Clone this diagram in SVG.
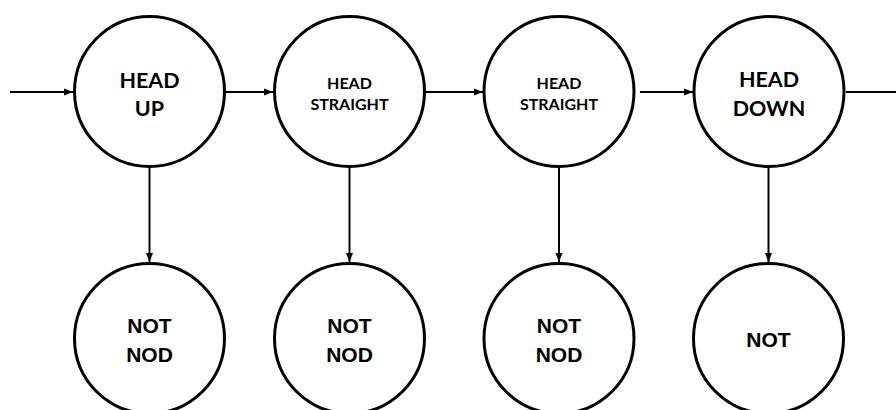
<svg xmlns="http://www.w3.org/2000/svg" width="896" height="410" viewBox="0 0 896 410">
  <defs>
    <marker id="arrow" markerUnits="userSpaceOnUse" markerWidth="10" markerHeight="8" refX="9" refY="4" orient="auto">
      <path d="M0,0.5 L9,4 L0,7.5 z" fill="#000"/>
    </marker>
    <style>
      .state { fill: #fff; stroke: #000; stroke-width: 3; }
      .edge { stroke: #000; stroke-width: 2; fill: none; }
      .lbl { font-family: Lato, "Open Sans", sans-serif; font-weight: bold; fill: #000; text-anchor: middle; }
      .big { font-size: 21.5px; }
      .small { font-size: 16px; }
      .out { font-family: "Liberation Sans", Arial, sans-serif; font-weight: bold; font-size: 21px; fill: #000; text-anchor: middle; }
    </style>
  </defs>
  <rect width="896" height="410" fill="#fff"/>

  <!-- connectors -->
  <g id="edges">
    <line class="edge" x1="10" y1="92" x2="73" y2="92" marker-end="url(#arrow)"/>
    <line class="edge" x1="226" y1="92" x2="273" y2="92" marker-end="url(#arrow)"/>
    <line class="edge" x1="426" y1="92" x2="483" y2="92" marker-end="url(#arrow)"/>
    <line class="edge" x1="640" y1="92" x2="693" y2="92" marker-end="url(#arrow)"/>
    <line class="edge" x1="846" y1="92" x2="896" y2="92"/>
    <line class="edge" x1="149.5" y1="168" x2="149.5" y2="262" marker-end="url(#arrow)"/>
    <line class="edge" x1="349.5" y1="168" x2="349.5" y2="262" marker-end="url(#arrow)"/>
    <line class="edge" x1="559" y1="168" x2="559" y2="262" marker-end="url(#arrow)"/>
    <line class="edge" x1="768.5" y1="168" x2="768.5" y2="262" marker-end="url(#arrow)"/>
  </g>

  <!-- head states -->
  <g id="head-up">
    <circle class="state" cx="149.5" cy="91.5" r="75"/>
    <text class="lbl big" x="149.5" y="87.5">HEAD</text>
    <text class="lbl big" x="149.5" y="116">UP</text>
  </g>
  <g id="head-straight-1">
    <circle class="state" cx="349.5" cy="91.5" r="75"/>
    <text class="lbl small" x="349.5" y="88.5">HEAD</text>
    <text class="lbl small" x="349.5" y="110">STRAIGHT</text>
  </g>
  <g id="head-straight-2">
    <circle class="state" cx="559" cy="91.5" r="75"/>
    <text class="lbl small" x="559" y="88.5">HEAD</text>
    <text class="lbl small" x="559" y="110">STRAIGHT</text>
  </g>
  <g id="head-down">
    <circle class="state" cx="769" cy="91.5" r="75"/>
    <text class="lbl big" x="769" y="87">HEAD</text>
    <text class="lbl big" x="769" y="115.5">DOWN</text>
  </g>

  <!-- outputs -->
  <g id="out-1">
    <circle class="state" cx="149.5" cy="338.5" r="75"/>
    <text class="out" x="149.5" y="333">NOT</text>
    <text class="out" x="149.5" y="362">NOD</text>
  </g>
  <g id="out-2">
    <circle class="state" cx="349.5" cy="338.5" r="75"/>
    <text class="out" x="349.5" y="333">NOT</text>
    <text class="out" x="349.5" y="362">NOD</text>
  </g>
  <g id="out-3">
    <circle class="state" cx="559" cy="338.5" r="75"/>
    <text class="out" x="559" y="333">NOT</text>
    <text class="out" x="559" y="362">NOD</text>
  </g>
  <g id="out-4">
    <circle class="state" cx="768.5" cy="338.5" r="75"/>
    <text class="out" x="768.5" y="347">NOT</text>
  </g>
</svg>
